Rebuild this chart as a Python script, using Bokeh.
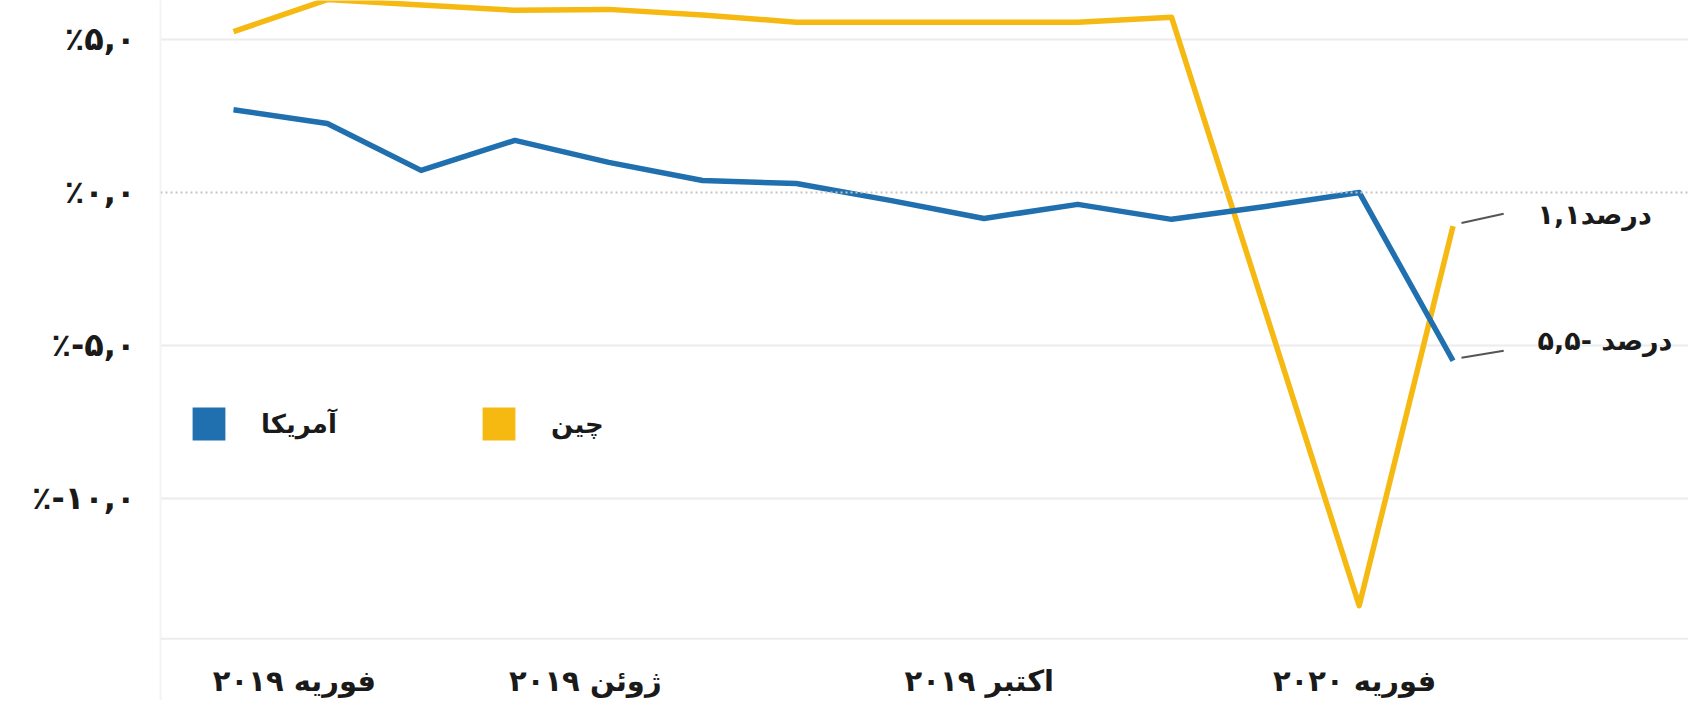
from bokeh.plotting import figure
from bokeh.models import FixedTicker, Span, Legend, LegendItem, Label
from bokeh.embed import file_html
from bokeh.resources import INLINE

# ---- data (month index 0 = Feb 2019 ... 13 = Mar 2020) ----
us_x = [0, 1, 2, 3, 4, 5, 6, 7, 8, 9, 10, 11, 12, 13]
us_y = [2.7, 2.25, 0.72, 1.7, 0.98, 0.39, 0.29, -0.26, -0.85, -0.39, -0.88, -0.46, 0.0, -5.5]
china_x = [0, 1, 2, 3, 4, 5, 6, 7, 8, 9, 10, 12, 13]
china_y = [5.25, 6.3, 6.12, 5.95, 5.98, 5.8, 5.56, 5.56, 5.56, 5.56, 5.72, -13.5, -1.1]

y_ticks = [-10, -5, 0, 5]
y_labels = ["٪-۱۰,۰", "٪-۵,۰", "٪۰,۰", "٪۵,۰"]
x_label_pos = [0.65, 3.75, 7.95, 11.95]
x_labels = ["فوریه ۲۰۱۹", "ژوئن ۲۰۱۹", "اکتبر ۲۰۱۹", "فوریه ۲۰۲۰"]
series_names = ["آمریکا", "چین"]
end_labels = ["۱,۱درصد", "۵,۵- درصد"]

BLUE = "#2070b0"
YELLOW = "#f6b912"
FONT = "DejaVu Sans"
Y_MAX = 6.27        # top of plotting area
Y_BASE = -14.58     # value at the chart's bottom base line
Y_MIN = -16.6       # extra room below the base line for the month labels

p = figure(width=1688, height=700, output_backend="svg", toolbar_location=None,
           x_range=(-0.778, 15.51), y_range=(Y_MIN, Y_MAX),
           min_border_left=160, min_border_right=0, min_border_top=0, min_border_bottom=0)
p.outline_line_color = None
p.background_fill_color = "white"
p.border_fill_color = "white"
p.xaxis.visible = False

# grid
p.xgrid.visible = False
p.ygrid.ticker = FixedTicker(ticks=[t for t in y_ticks if t != 0])
p.ygrid.grid_line_color = "#ececec"
p.ygrid.grid_line_width = 2
p.add_layout(Span(location=0, dimension="width", line_color="#c4c4c4",
                  line_dash="2 3", line_width=2))
p.add_layout(Span(location=Y_BASE, dimension="width", line_color="#ececec", line_width=2))

# y axis
p.yaxis.ticker = FixedTicker(ticks=y_ticks)
p.yaxis.major_label_overrides = {t: l for t, l in zip(y_ticks, y_labels)}
p.yaxis.major_tick_line_color = None
p.yaxis.minor_tick_line_color = None
p.yaxis.axis_line_color = "#f4f4f4"
p.yaxis.axis_line_width = 2
p.yaxis.major_label_standoff = 19
p.yaxis.major_label_text_font = FONT
p.yaxis.major_label_text_font_style = "bold"
p.yaxis.major_label_text_font_size = "32px"
p.yaxis.major_label_text_color = "#1a1a1a"

# month labels under the base line
for pos, lab in zip(x_label_pos, x_labels):
    p.add_layout(Label(x=pos, y=Y_BASE, y_offset=-42, text=lab,
                       text_align="center", text_baseline="middle",
                       text_font=FONT, text_font_style="bold",
                       text_font_size="29px", text_color="#1a1a1a"))

# lines
p.line(china_x, china_y, line_color=YELLOW, line_width=5.5, line_join="round")
p.line(us_x, us_y, line_color=BLUE, line_width=5.5, line_join="round")

# legend proxies (no visible data)
nan = float("nan")
r_us = p.rect(x=[nan], y=[nan], width=1, height=1, fill_color=BLUE, line_color=None)
r_cn = p.rect(x=[nan], y=[nan], width=1, height=1, fill_color=YELLOW, line_color=None)
legend = Legend(items=[LegendItem(label=series_names[0], renderers=[r_us]),
                       LegendItem(label=series_names[1], renderers=[r_cn])],
                orientation="horizontal", location=(28, 256),
                glyph_width=41, glyph_height=41, label_standoff=32,
                label_width=100, spacing=117, padding=0, margin=0,
                border_line_color=None, background_fill_alpha=0,
                label_text_font=FONT, label_text_font_style="bold",
                label_text_font_size="26px", label_text_color="#1a1a1a")
p.add_layout(legend)

# end-point annotations
for xs, ys, txt, dy0, dy1, off in [(china_x, china_y, end_labels[0], 0.1, 0.4, 12),
                                   (us_x, us_y, end_labels[1], 0.1, 0.33, 20)]:
    x_end, y_end = xs[-1], ys[-1]
    p.segment(x0=[x_end + 0.09], y0=[y_end + dy0], x1=[x_end + 0.54], y1=[y_end + dy1],
              line_color="#555555", line_width=2)
    p.add_layout(Label(x=x_end + 0.9, y=y_end, y_offset=off, text=txt,
                       text_align="left", text_baseline="middle",
                       text_font=FONT, text_font_style="bold",
                       text_font_size="27px", text_color="#1a1a1a"))

open("out.html", "w").write(file_html(p, INLINE))
